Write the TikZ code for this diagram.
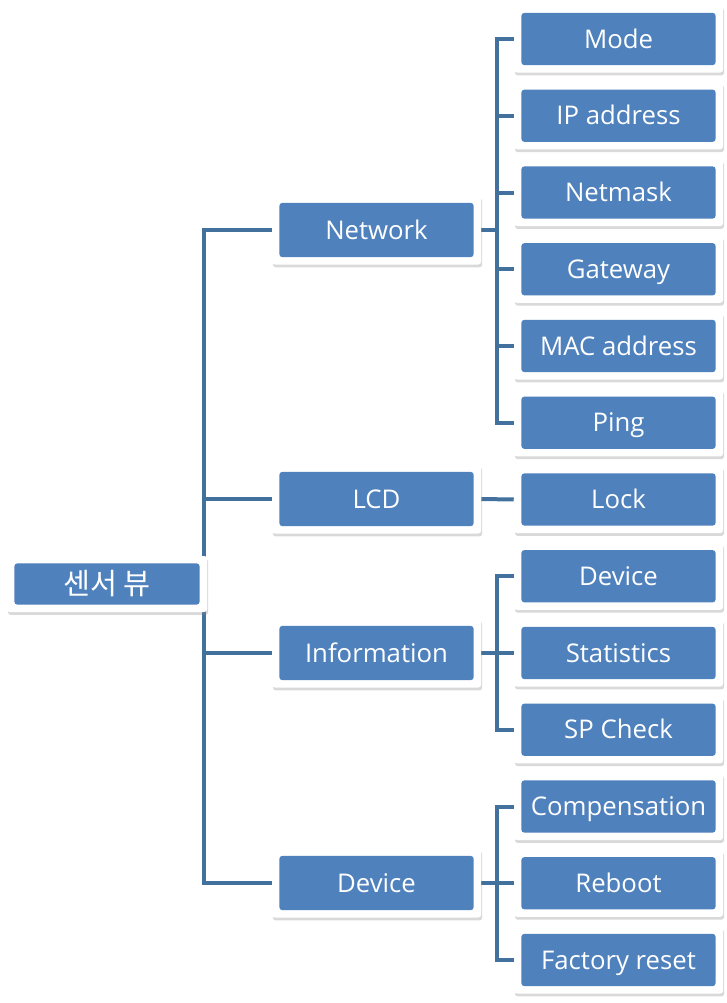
\documentclass[tikz,border=0pt]{standalone}
\usepackage{fontspec}
\setmainfont{Open Sans}
\newfontfamily\krfont{Noto Sans CJK KR}
\usetikzlibrary{positioning, shadows, backgrounds}
\definecolor{boxblue}{HTML}{4F81BD}
\definecolor{linkblue}{HTML}{41719C}

\begin{document}
\begin{tikzpicture}[
  x=0.75pt, y=-0.75pt,
  menu/.style={rectangle, fill=white, rounded corners=2pt, inner sep=0pt, minimum width=156.75pt, minimum height=50.25pt, text=white,
    font=\fontsize{19.3}{23}\selectfont, text height=13.8pt, text depth=0pt,
    drop shadow={shadow xshift=0.8pt, shadow yshift=-2.2pt, opacity=0.3},
    path picture={\fill[boxblue] ([shift={(5.6pt,5.6pt)}]path picture bounding box.south west) rectangle ([shift={(-5.6pt,-5.6pt)}]path picture bounding box.north east);}},
  group/.style={menu, minimum height=51.75pt},
  link/.style={draw=linkblue, line width=3pt}
]
  \useasboundingbox (0,0) rectangle (726,1003);

  % Root
  \node[menu, minimum width=150pt, minimum height=42pt, font=\krfont\fontsize{22}{26}\selectfont, text height=17.6pt, text depth=1.2pt] (root) at (107, 584) {센서 뷰};
  \coordinate (trunk) at ([xshift=-2.6pt]root.east);

  % Groups
  \node[group] (net) at (376.5, 230) {Network};
  \node[group] (lcd) at (376.5, 499) {LCD};
  \node[group] (info) at (376.5, 653) {Information};
  \node[group] (dev) at (376.5, 883) {Device};

  % Network items
  \node[menu] (mode) at (618.5, 39) {Mode};
  \node[menu] (ip) at (618.5, 115.75) {IP address};
  \node[menu] (mask) at (618.5, 192.5) {Netmask};
  \node[menu] (gw) at (618.5, 269.25) {Gateway};
  \node[menu] (mac) at (618.5, 346) {MAC address};
  \node[menu] (ping) at (618.5, 422.75) {Ping};

  % LCD items
  \node[menu] (lock) at (618.5, 499.5) {Lock};

  % Information items
  \node[menu] (idev) at (618.5, 576.25) {Device};
  \node[menu] (stat) at (618.5, 653) {Statistics};
  \node[menu] (spchk) at (618.5, 729.75) {SP Check};

  % Device items
  \node[menu] (comp) at (618.5, 806.5) {Compensation};
  \node[menu] (boot) at (618.5, 883.25) {Reboot};
  \node[menu] (reset) at (618.5, 960) {Factory reset};

  \begin{scope}[on background layer]
    \draw[link] (net.west) -| (trunk) |- (dev.west);
    \draw[link] (trunk) |- (lcd.west);
    \draw[link] (trunk) |- (info.west);
    \foreach \c in {mode, ip, mask, gw, mac, ping}
      \draw[link] (net.east) -- ++(16,0) |- (\c.west);
    \draw[link] (lcd.east) -- (lock.west);
    \foreach \c in {idev, stat, spchk}
      \draw[link] (info.east) -- ++(16,0) |- (\c.west);
    \foreach \c in {comp, boot, reset}
      \draw[link] (dev.east) -- ++(16,0) |- (\c.west);
  \end{scope}
\end{tikzpicture}
\end{document}
